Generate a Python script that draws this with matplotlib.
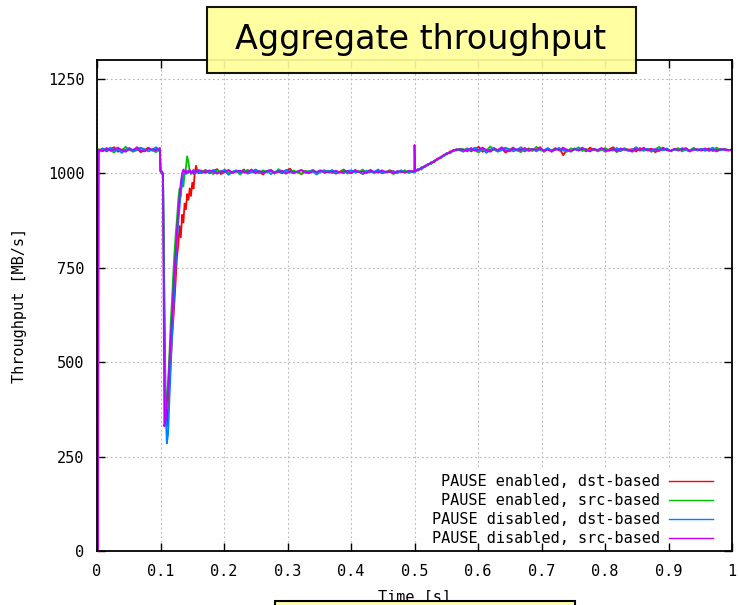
import numpy as np
import matplotlib.pyplot as plt
from matplotlib.patches import Rectangle

plt.rcParams['font.family'] = ['DejaVu Sans Mono']
plt.rcParams['font.size'] = 11

# time windows of each piece of the traces [s]
t_start = [0.0, 0.0015]
win_a = (0.003, 0.099)      # before the hot spot
win_dip = (0.100, 0.160)    # congestion dip and recovery
win_b = (0.165, 0.497)      # reduced plateau
t_spike = [0.4995, 0.5]
win_c = (0.501, 0.571)      # ramp back up
win_d = (0.577, 1.0)        # final plateau

labels = ['PAUSE enabled, dst-based', 'PAUSE enabled, src-based',
          'PAUSE disabled, dst-based', 'PAUSE disabled, src-based']
colors = ['#ff0000', '#00c000', '#0080ff', '#c000ff']

xticks = [0, 0.1, 0.2, 0.3, 0.4, 0.5, 0.6, 0.7, 0.8, 0.9, 1.0]
xtick_labels = ['0', '0.1', '0.2', '0.3', '0.4', '0.5', '0.6', '0.7', '0.8', '0.9', '1']
yticks = [0, 250, 500, 750, 1000, 1250]

# PAUSE enabled, dst-based (red)
red_start = [600, 1060]
red_a = [1060, 1066, 1058, 1064, 1069, 1057, 1063, 1061, 1067, 1059, 1065, 1056, 1062, 1068, 1060, 1064, 1058]
red_dip = [1005, 1000, 995, 560, 360, 330, 380, 440, 500, 560, 610, 660, 720, 780, 810, 860,
           830, 890, 870, 920, 905, 945, 930, 960, 940, 975, 960, 1000, 1020, 1005, 1000]
red_b = [1003, 1009, 1000, 1006, 1011, 998, 1004, 1008, 1001, 1007, 1002, 1010, 999, 1005, 1008, 1003,
         997, 1006, 1009, 1002, 1005, 1000, 1007, 1012, 1001, 1004, 998, 1006, 1003, 1009, 1000, 1005,
         1008, 1002, 1006, 999, 1004, 1010, 1003, 1001, 1007, 1005, 998, 1004, 1009, 1002, 1006, 1000,
         1003, 1008, 1005, 1001, 1007, 1004, 1002, 1006]
red_spike = [1004, 1006]
red_c = [1004, 1011, 1012, 1020, 1021, 1029, 1030, 1039, 1040, 1049, 1050, 1058, 1059, 1064, 1061]
red_d = [1060, 1066, 1058, 1064, 1070, 1057, 1063, 1061, 1067, 1059, 1065, 1055, 1062, 1068, 1060, 1064,
         1058, 1066, 1061, 1063, 1069, 1057, 1065, 1060, 1062, 1067, 1048, 1063, 1059, 1066, 1061, 1064,
         1058, 1068, 1062, 1060, 1065, 1057, 1063, 1069, 1061, 1059, 1066, 1062, 1064, 1058, 1067, 1060,
         1063, 1065, 1056, 1062, 1068, 1061, 1059, 1064, 1066, 1060, 1063, 1058, 1067, 1062, 1064, 1060,
         1066, 1059, 1063, 1061, 1065, 1062, 1060]

# PAUSE enabled, src-based (green)
green_start = [610, 1062]
green_a = [1064, 1058, 1067, 1061, 1055, 1066, 1060, 1070, 1062, 1057, 1063, 1068, 1059, 1065, 1061, 1056, 1066]
green_dip = [1008, 1002, 990, 700, 410, 395, 450, 520, 600, 660, 730, 790, 840, 880, 930, 960,
             940, 985, 965, 1000, 1015, 1045, 1030, 1005, 998, 1004, 1010, 1000, 1006, 1002, 1008]
green_b = [1007, 1001, 1005, 998, 1008, 1003, 1010, 1000, 1004, 1006, 997, 1005, 1009, 1002, 1004, 1000,
           1008, 1003, 1006, 999, 1011, 1004, 1001, 1005, 1007, 1002, 998, 1006, 1004, 1009, 1001, 1005,
           1003, 1007, 1000, 1006, 1002, 1008, 999, 1004, 1006, 1003, 1010, 1001, 1005, 1000, 1007, 1004,
           1002, 1006, 998, 1005, 1003, 1008, 1001, 1004]
green_spike = [1002, 1005]
green_c = [1008, 1007, 1016, 1016, 1025, 1024, 1034, 1035, 1044, 1045, 1054, 1053, 1062, 1060, 1065]
green_d = [1064, 1058, 1067, 1061, 1055, 1066, 1060, 1071, 1062, 1057, 1063, 1068, 1059, 1065, 1061, 1056,
           1066, 1063, 1059, 1070, 1062, 1058, 1064, 1061, 1067, 1060, 1063, 1057, 1066, 1062, 1069, 1059,
           1064, 1061, 1065, 1058, 1062, 1067, 1060, 1064, 1056, 1063, 1066, 1061, 1059, 1068, 1062, 1060,
           1065, 1057, 1063, 1070, 1061, 1064, 1059, 1062, 1066, 1058, 1064, 1061, 1067, 1060, 1063, 1065,
           1059, 1062, 1068, 1061, 1064, 1060, 1063]

# PAUSE disabled, dst-based (blue)
blue_start = [630, 1058]
blue_a = [1057, 1065, 1061, 1068, 1060, 1064, 1054, 1063, 1066, 1059, 1061, 1067, 1064, 1058, 1063, 1069, 1060]
blue_dip = [1004, 1006, 998, 640, 380, 285, 310, 400, 480, 560, 630, 700, 760, 820, 870, 910,
            950, 975, 995, 1003, 998, 1006, 1001, 1008, 1000, 1004, 998, 1006, 1002, 1007, 1003]
blue_b = [1000, 1006, 1003, 1009, 1001, 1005, 1007, 996, 1004, 1008, 1002, 1006, 1000, 1003, 1010, 1005,
          1001, 1007, 998, 1004, 1006, 1002, 1009, 1003, 1000, 1005, 1008, 1001, 1006, 1004, 997, 1005,
          1007, 1003, 1009, 1001, 1004, 1000, 1006, 1008, 1002, 1005, 999, 1007, 1003, 1004, 1010, 1001,
          1005, 1003, 1006, 1000, 1008, 1002, 1005, 1003]
blue_spike = [1006, 1003]
blue_c = [1006, 1012, 1010, 1019, 1024, 1026, 1033, 1036, 1043, 1046, 1051, 1057, 1058, 1063, 1062]
blue_d = [1057, 1065, 1061, 1068, 1060, 1064, 1054, 1063, 1066, 1059, 1061, 1067, 1064, 1058, 1063, 1069,
          1060, 1062, 1065, 1058, 1064, 1061, 1067, 1059, 1063, 1066, 1060, 1062, 1057, 1065, 1063, 1068,
          1061, 1059, 1064, 1062, 1066, 1058, 1063, 1060, 1067, 1061, 1064, 1059, 1062, 1069, 1060, 1063,
          1065, 1058, 1062, 1064, 1061, 1066, 1059, 1063, 1060, 1067, 1062, 1058, 1064, 1061, 1065, 1060,
          1063, 1068, 1059, 1062, 1064, 1061, 1063]

# PAUSE disabled, src-based (purple)
purple_start = [630, 0]
purple_a = [1062, 1059, 1066, 1060, 1063, 1068, 1061, 1057, 1064, 1062, 1069, 1060, 1058, 1065, 1063, 1061, 1067]
purple_dip = [1006, 1003, 1000, 330, 345, 390, 430, 500, 560, 620, 680, 740, 790, 850, 900, 940,
              975, 1000, 1010, 1003, 1008, 1001, 1005, 1009, 1002, 1006, 1000, 1007, 1003, 1005, 1008]
purple_b = [1005, 1002, 1008, 1004, 999, 1006, 1003, 1009, 1001, 1005, 1007, 1002, 1004, 1010, 1000, 1006,
            1003, 1005, 1008, 1001, 1004, 1007, 999, 1006, 1002, 1005, 1009, 1003, 1000, 1006, 1004, 1008,
            1001, 1005, 1003, 1007, 1002, 1004, 1006, 1000, 1009, 1003, 1005, 1001, 1007, 1004, 1002, 1008,
            1003, 1005, 1000, 1006, 1004, 1002, 1007, 1005]
purple_spike = [1005, 1075]
purple_c = [1007, 1009, 1015, 1017, 1023, 1028, 1031, 1038, 1041, 1048, 1053, 1055, 1061, 1062, 1064]
purple_d = [1062, 1059, 1066, 1060, 1063, 1068, 1061, 1057, 1064, 1062, 1069, 1060, 1058, 1065, 1063, 1061,
            1067, 1059, 1064, 1062, 1066, 1060, 1063, 1057, 1065, 1061, 1068, 1062, 1059, 1064, 1060, 1066,
            1063, 1058, 1065, 1061, 1067, 1062, 1060, 1064, 1059, 1066, 1062, 1063, 1057, 1065, 1061, 1068,
            1060, 1063, 1064, 1059, 1066, 1062, 1060, 1065, 1061, 1063, 1067, 1059, 1062, 1064, 1060, 1066,
            1061, 1063, 1058, 1065, 1062, 1061, 1063]


def trace(start, a, dip, b, spike, c, d):
    t = np.concatenate([t_start,
                        np.linspace(*win_a, len(a)),
                        np.linspace(*win_dip, len(dip)),
                        np.linspace(*win_b, len(b)),
                        t_spike,
                        np.linspace(*win_c, len(c)),
                        np.linspace(*win_d, len(d))])
    y = np.concatenate([start, a, dip, b, spike, c, d])
    return t, y


series = [
    trace(red_start, red_a, red_dip, red_b, red_spike, red_c, red_d),
    trace(green_start, green_a, green_dip, green_b, green_spike, green_c, green_d),
    trace(blue_start, blue_a, blue_dip, blue_b, blue_spike, blue_c, blue_d),
    trace(purple_start, purple_a, purple_dip, purple_b, purple_spike, purple_c, purple_d),
]

W, H = 739, 605
fig = plt.figure(figsize=(W / 100, H / 100), dpi=100)
ax = fig.add_axes([97 / W, 1 - 551 / H, 635 / W, 491 / H])

# grid drawn by hand so the legend background can hide it but not the ticks
for x in xticks:
    ax.axvline(x, color='#b4b4b4', lw=0.8, ls=(0, (1.5, 2.5)), zorder=0.5)
for y in yticks:
    ax.axhline(y, color='#b4b4b4', lw=0.8, ls=(0, (1.5, 2.5)), zorder=0.5)

for (t, y), c, lab in zip(series, colors, labels):
    ax.plot(t, y, color=c, lw=1.3, label=lab, zorder=2)

ax.set_xlim(0, 1)
ax.set_ylim(0, 1300)
ax.set_xticks(xticks)
ax.set_xticklabels(xtick_labels)
ax.set_yticks(yticks)
ax.tick_params(direction='in', length=6, width=1, top=True, right=True)
ax.tick_params(axis='x', pad=9)
ax.tick_params(axis='y', pad=9)
for s in ax.spines.values():
    s.set_linewidth(1.3)

leg = ax.legend(loc='lower right', bbox_to_anchor=(0.978, 0.0), markerfirst=False,
                handlelength=2.9, handletextpad=0.6, labelspacing=0.27, borderpad=0.3,
                borderaxespad=0, fancybox=False, framealpha=1, facecolor='white',
                edgecolor='none')
for line in leg.get_lines():
    line.set_linewidth(1.0)
leg.set_zorder(1)

fig.text(20 / W, 1 - 305 / H, 'Throughput [MB/s]', rotation=90, ha='center', va='center')
fig.text(414 / W, 1 - 597 / H, 'Time [s]', ha='center', va='center')

# yellow slide boxes
fig.patches.append(Rectangle((207 / W, 1 - 73 / H), 429 / W, 66 / H, transform=fig.transFigure,
                             facecolor='#ffff99', edgecolor='black', lw=1.5, alpha=0.92, zorder=5))
fig.text(421 / W, 1 - 40 / H, 'Aggregate throughput', family='DejaVu Sans', fontsize=24,
         ha='center', va='center', zorder=6)
fig.patches.append(Rectangle((275 / W, -0.01), 300 / W, (H - 601) / H + 0.01, transform=fig.transFigure,
                             facecolor='#ffffaa', edgecolor='black', lw=1.5, zorder=5))

fig.savefig('out.png', dpi=100)
